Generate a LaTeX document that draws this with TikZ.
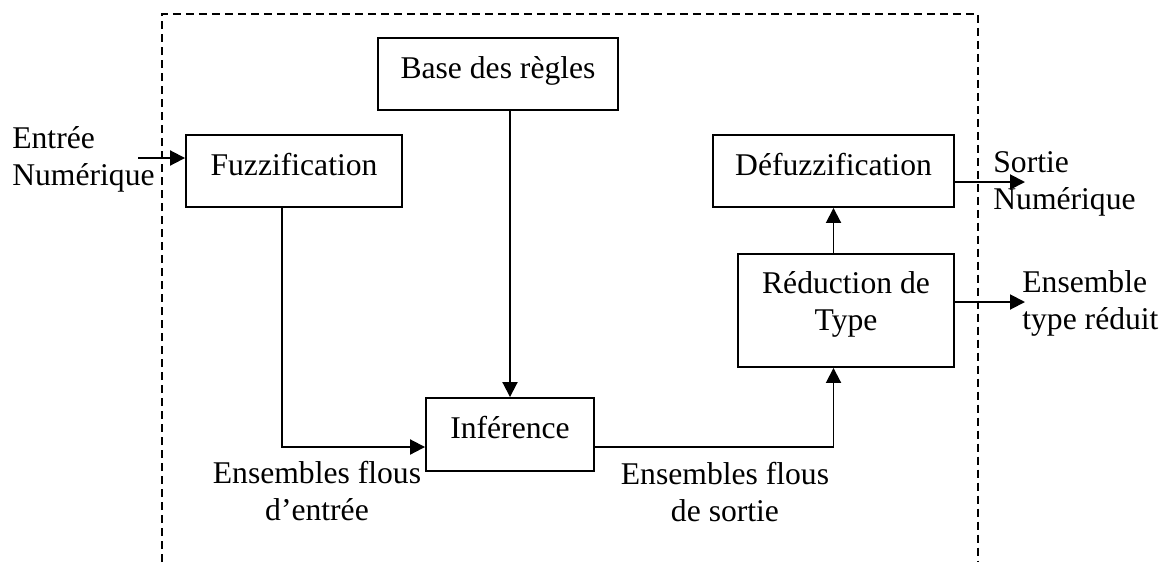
\documentclass[tikz,border=0pt]{standalone}
\usepackage{fontspec}
\setmainfont{Liberation Serif}
\usepackage{tikz}
\usetikzlibrary{positioning,calc,arrows.meta}

\begin{document}
\begin{tikzpicture}[
  x=0.02cm,y=-0.02cm,
  font=\fontsize{18pt}{20.5pt}\selectfont,
  block/.style={draw,line width=1.1pt,inner sep=0pt,minimum height=1.44cm,align=center,text height=0.4cm,text depth=0.24cm},
  lbl/.style={inner sep=0pt,align=left,anchor=base west},
  flow/.style={line width=1.1pt,-{Triangle[length=0.3cm,width=0.3cm]}},
  frame/.style={line width=0.85pt,dash pattern=on 0.16cm off 0.1cm}
]
  \useasboundingbox (0,0) rectangle (1166,562);

  % dashed frame, open at the bottom
  \draw[frame] (162,562) -- (162,14) -- (978,14) -- (978,562);

  \node[block,minimum width=4.8cm] (rules) at (498,74) {Base des règles};
  \node[block,minimum width=4.32cm] (fuzz) at (294,171) {Fuzzification};
  \node[block,minimum width=4.82cm] (defuzz) at (833.5,171) {Défuzzification};
  \node[block,minimum width=4.32cm,minimum height=2.26cm,text height=1.2cm,text depth=0.42cm] (reduc) at (846,310.5) {Réduction de\\ Type};
  \node[block,minimum width=3.36cm,minimum height=1.46cm] (infer) at (510,434.5) {Inférence};

  \coordinate (in) at (138,158);
  \coordinate (out1) at (1025,182);
  \coordinate (out2) at (1025,302);

  % multi-line labels: base is the last line
  \node[lbl] (inlbl) at (12,185) {Entrée\\Numérique};
  \node[lbl] (out1lbl) at (993,209) {Sortie\\Numérique};
  \node[lbl] (out2lbl) at (1022,329) {Ensemble\\type réduit};
  \node[lbl,align=center,anchor=base] (fsin) at (317,520) {Ensembles flous\\d’entrée};
  \node[lbl,align=center,anchor=base] (fsout) at (725,521) {Ensembles flous\\de sortie};

  \draw[flow] (in) -- (in -| fuzz.west);
  \draw[flow] ([xshift=-0.24cm]fuzz.south) |- ([yshift=-0.25cm]infer.west);
  \draw[flow] (rules.south -| infer.north) -- (infer.north);
  \draw[flow] ([yshift=-0.25cm]infer.east) -| (defuzz.center |- reduc.south);
  \draw[flow] (defuzz.center |- reduc.north) -- (defuzz.south);
  \draw[flow] (out1 -| defuzz.east) -- (out1);
  \draw[flow] (out2 -| reduc.east) -- (out2);
\end{tikzpicture}
\end{document}
